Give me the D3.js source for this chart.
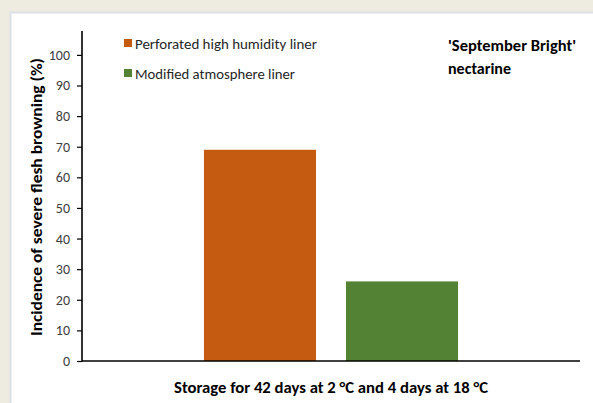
<!DOCTYPE html>
<html><head><meta charset="utf-8">
<script src="https://cdn.jsdelivr.net/npm/d3@7"></script>
<style>
html,body{margin:0;padding:0;background:#EEEBE1;}
svg{display:block;}
text{font-family:Carlito,Lato,"Open Sans",sans-serif;}
</style></head>
<body>
<svg id="c" width="593" height="403"></svg>
<script>
const categories = ["Storage for 42 days at 2 °C and 4 days at 18 °C"];
const seriesNames = ["Perforated high humidity liner", "Modified atmosphere liner"];
const seriesValues = [69, 26];
const seriesColors = ["#C55A11", "#548235"];
const yTicks = [0, 10, 20, 30, 40, 50, 60, 70, 80, 90, 100];
const yTitle = "Incidence of severe flesh browning (%)";
const noteLines = ["'September Bright'", "nectarine"];

const svg = d3.select("#c");
// panel
svg.append("rect").attr("x", 10.5).attr("y", 12.5).attr("width", 590).attr("height", 400)
  .attr("fill", "#fff").attr("stroke", "#DCDFE5").attr("stroke-width", 2);

const m = {l: 82, r: 580, t: 31, b: 361};
const y = d3.scaleLinear().domain([0, 107.8]).range([m.b, m.t]);
const x0 = d3.scaleBand().domain(categories).range([m.l, m.r]).paddingInner(0).paddingOuter(0.48);
const x1 = d3.scaleBand().domain(seriesNames).range([0, x0.bandwidth()]).paddingInner(30/142);

// bars
const g = svg.append("g");
categories.forEach(c => {
  seriesNames.forEach((s, i) => {
    g.append("rect")
      .attr("x", x0(c) + x1(s))
      .attr("y", y(seriesValues[i]))
      .attr("width", x1.bandwidth())
      .attr("height", y(0) - y(seriesValues[i]))
      .attr("fill", seriesColors[i]);
  });
});

// y axis
const ya = svg.append("g").attr("transform", `translate(${m.l},0)`)
  .call(d3.axisLeft(y).tickValues(yTicks).tickSize(5).tickPadding(7).tickSizeOuter(0));
ya.select(".domain").remove();
ya.append("line").attr("x1", 0).attr("x2", 0).attr("y1", m.t).attr("y2", m.b + 1)
  .attr("stroke", "#000").attr("stroke-width", 1.6);
ya.selectAll(".tick line").attr("stroke", "#000").attr("stroke-width", 1.2);
ya.selectAll(".tick text").attr("fill", "#404040").style("font-size", "14px")
  .style("font-family", "Carlito,Lato,sans-serif");

// x axis line
svg.append("line").attr("x1", m.l).attr("x2", m.r).attr("y1", m.b).attr("y2", m.b)
  .attr("stroke", "#000").attr("stroke-width", 1.6);

// x title
svg.append("text").attr("x", x0(categories[0]) + x0.bandwidth()/2).attr("y", 393)
  .attr("text-anchor", "middle").style("font-size", "15.5px").style("font-weight", "bold")
  .attr("fill", "#000").attr("textLength", 314).attr("lengthAdjust", "spacingAndGlyphs")
  .text(categories[0]);

// y title
svg.append("text").attr("transform", `translate(42,${(m.t + m.b)/2 + 1}) rotate(-90)`)
  .attr("text-anchor", "middle").style("font-size", "15px").style("font-weight", "bold")
  .attr("fill", "#000").attr("textLength", 278).attr("lengthAdjust", "spacingAndGlyphs")
  .text(yTitle);

// legend
const leg = svg.append("g");
const legLen = [182, 160];
seriesNames.forEach((s, i) => {
  const yy = 39 + i * 30;
  leg.append("rect").attr("x", 124).attr("y", yy).attr("width", 8).attr("height", 8).attr("fill", seriesColors[i]);
  leg.append("text").attr("x", 135).attr("y", yy + 9.5).style("font-size", "15px").attr("fill", "#262626")
    .attr("textLength", legLen[i]).attr("lengthAdjust", "spacingAndGlyphs").text(s);
});

// note
const noteLen = [128, 63];
noteLines.forEach((t, i) => {
  svg.append("text").attr("x", 448).attr("y", 50.5 + i * 23.5).style("font-size", "15.5px")
    .style("font-weight", "bold").attr("fill", "#000")
    .attr("textLength", noteLen[i]).attr("lengthAdjust", "spacingAndGlyphs").text(t);
});
</script>
</body></html>
